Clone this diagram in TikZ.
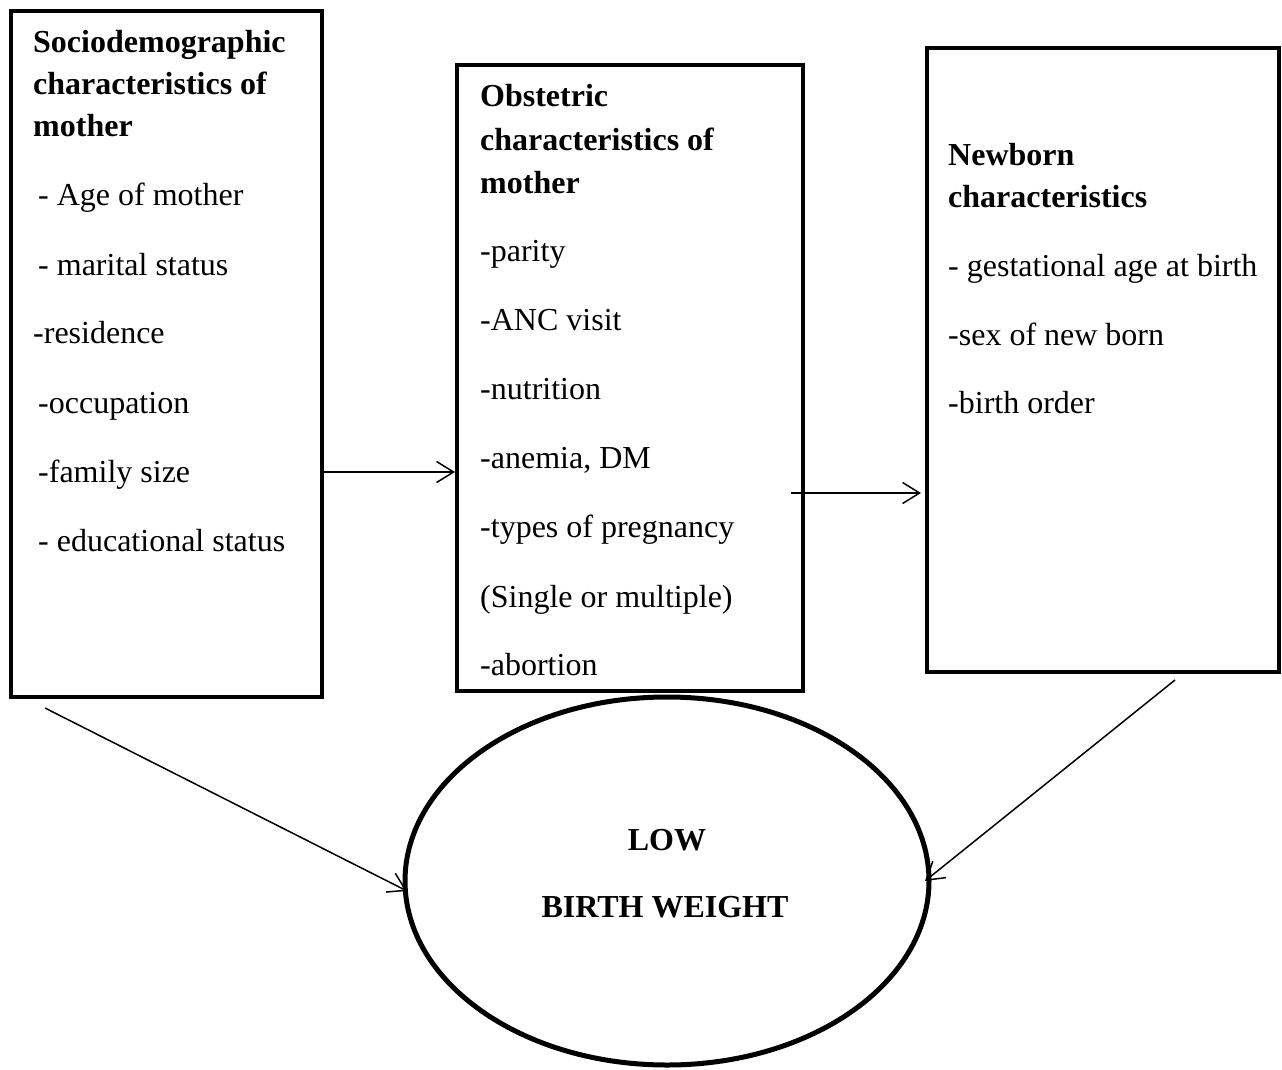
\documentclass[tikz,border=0pt]{standalone}
\usepackage{fontspec}
\setmainfont{Liberation Serif}
\usetikzlibrary{arrows.meta,shapes.geometric}
\begin{document}
\begin{tikzpicture}[x=1pt,y=-1pt,
  frame/.style={draw, line width=4.8pt, rectangle, inner sep=0pt, outer sep=0pt},
  oval/.style={draw, line width=5pt, ellipse, inner sep=0pt, outer sep=0pt},
  txt/.style={anchor=base west, inner sep=0pt, font=\fontsize{32}{40}\selectfont},
  head/.style={txt, font=\fontsize{32}{40}\selectfont\bfseries},
  ctxt/.style={anchor=base, inner sep=0pt, font=\fontsize{32}{40}\selectfont\bfseries},
  arr/.style={line width=1.5pt, -{Straight Barb[length=17pt,width=21pt,line width=1.5pt]}}]
\useasboundingbox (0,0) rectangle (1282,1070);
% boxes
\node[frame, minimum width=311pt, minimum height=686pt] (b1) at (166.5,354) {};
\node[frame, minimum width=346pt, minimum height=626pt] (b2) at (630,378) {};
\node[frame, minimum width=352pt, minimum height=624pt] (b3) at (1103,360) {};
\node[oval, minimum width=524pt, minimum height=368pt] (lbw) at (667,881) {};
% box 1 text
\node[head] (t11) at (33,53) {Sociodemographic};
\node[head] (t12) at (33,95) {characteristics of};
\node[head] (t13) at (33,137) {mother};
\node[txt] (t14) at (38,205) {- Age of mother};
\node[txt] (t15) at (38,275) {- marital status};
\node[txt] (t16) at (33,343) {-residence};
\node[txt] (t17) at (38,413) {-occupation};
\node[txt] (t18) at (38,482) {-family size};
\node[txt] (t19) at (38,551) {- educational status};
% box 2 text
\node[head] (t21) at (480,107) {Obstetric};
\node[head] (t22) at (480,150) {characteristics of};
\node[head] (t23) at (480,193) {mother};
\node[txt] (t24) at (480,261) {-parity};
\node[txt] (t25) at (480,330) {-ANC visit};
\node[txt] (t26) at (480,399) {-nutrition};
\node[txt] (t27) at (480,468) {-anemia, DM};
\node[txt] (t28) at (480,537) {-types of pregnancy};
\node[txt] (t29) at (480,607) {(Single or multiple)};
\node[txt] (t2a) at (480,675) {-abortion};
% box 3 text
\node[head] (t31) at (948,165) {Newborn};
\node[head] (t32) at (948,207) {characteristics};
\node[txt] (t33) at (948,276) {- gestational age at birth};
\node[txt] (t34) at (948,345) {-sex of new born};
\node[txt] (t35) at (948,413) {-birth order};
% ellipse text
\node[ctxt] (e1) at (667,850) {LOW};
\node[ctxt] (e2) at (665,917) {BIRTH WEIGHT};
% connector end points
\coordinate (a1s) at (322,472);
\coordinate (a2s) at (791,493);
\coordinate (a3s) at (45,708);
\coordinate (a3e) at (407,891);
\coordinate (a4s) at (1175,680);
\coordinate (a4e) at (925,881);
\draw[arr, shorten >=2pt] (a1s) -- (a1s -| b2.west);
\draw[arr, shorten >=6pt] (a2s) -- (a2s -| b3.west);
\draw[arr] (a3s) -- (a3e);
\draw[arr] (a4s) -- (a4e);
\end{tikzpicture}
\end{document}
